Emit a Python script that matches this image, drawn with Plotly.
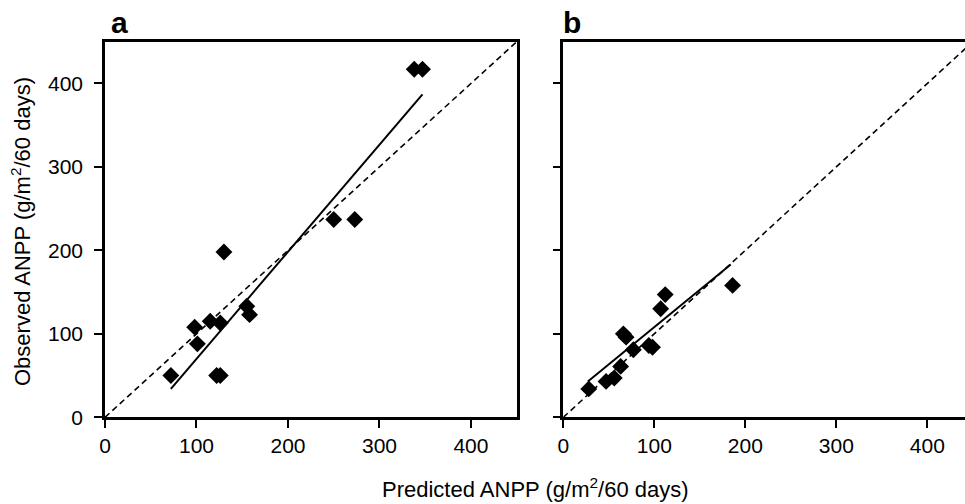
import plotly.graph_objects as go

# =====================================
# DATA
# =====================================

a_pred = [72, 98, 101, 115, 126, 122, 126, 130, 155, 158, 250, 273, 338, 347]
a_obs = [50, 108, 88, 115, 113, 50, 50, 198, 133, 123, 237, 237, 417, 417]
a_fit_x = [72, 347]
a_fit_y = [34, 387]

b_pred = [28, 47, 56, 63, 66, 69, 77, 94, 98, 107, 112, 186]
b_obs = [34, 43, 47, 61, 100, 96, 81, 86, 84, 130, 147, 158]
b_fit_x = [27, 184]
b_fit_y = [43, 183]

one_to_one = [0, 450]
tick_vals = [0, 100, 200, 300, 400]

FONT = "Liberation Sans, Arial, Helvetica, sans-serif"
W, H = 965, 504

# =====================================
# FIGURE
# =====================================

fig = go.Figure()

panels = [
    ("x", "y", a_pred, a_obs, a_fit_x, a_fit_y),
    ("x2", "y2", b_pred, b_obs, b_fit_x, b_fit_y),
]

for xa, ya, px, py, fx, fy in panels:
    # 1:1 dashed line
    fig.add_trace(go.Scatter(
        x=one_to_one, y=one_to_one, xaxis=xa, yaxis=ya,
        mode="lines", line=dict(color="black", width=1.6, dash="6px,4px"),
        showlegend=False, hoverinfo="skip"
    ))
    # regression line
    fig.add_trace(go.Scatter(
        x=fx, y=fy, xaxis=xa, yaxis=ya,
        mode="lines", line=dict(color="black", width=2),
        showlegend=False, hoverinfo="skip"
    ))
    # observations
    fig.add_trace(go.Scatter(
        x=px, y=py, xaxis=xa, yaxis=ya,
        mode="markers",
        marker=dict(symbol="diamond", size=13, color="black",
                    line=dict(width=0)),
        showlegend=False
    ))

# =====================================
# LAYOUT
# =====================================

axis_style = dict(
    showline=True, linecolor="black", linewidth=2.5,
    ticks="outside", ticklen=8, tickwidth=2, tickcolor="black",
    showgrid=False, zeroline=False,
    tickvals=tick_vals,
    tickfont=dict(family=FONT, size=21, color="black"),
    automargin=False,
)

top = 1 - 41.7 / H
bottom = 1 - 417.3 / H

fig.update_layout(
    width=W, height=H,
    margin=dict(l=0, r=0, t=0, b=0),
    paper_bgcolor="white", plot_bgcolor="white",
    font=dict(family=FONT, color="black"),
    xaxis=dict(axis_style, domain=[105 / W, 516.7 / W], range=[0, 450],
               mirror=True, anchor="y"),
    yaxis=dict(axis_style, domain=[bottom, top], range=[0, 450],
               mirror=True, anchor="x", ticklabelstandoff=7),
    xaxis2=dict(axis_style, domain=[563.3 / W, 1], range=[0, 441.4],
                mirror=True, anchor="y2"),
    yaxis2=dict(axis_style, domain=[bottom, top], range=[0, 450],
                mirror=False, anchor="x2", showticklabels=False),
)

# panel letters and axis titles
fig.add_annotation(text="<b>a</b>", x=109 / W, y=1 - 4 / H,
                   xref="paper", yref="paper", xanchor="left", yanchor="top",
                   showarrow=False, font=dict(family=FONT, size=30))
fig.add_annotation(text="<b>b</b>", x=561 / W, y=1 - 4 / H,
                   xref="paper", yref="paper", xanchor="left", yanchor="top",
                   showarrow=False, font=dict(family=FONT, size=30))
fig.add_annotation(text="Predicted ANPP (g/m<sup>2</sup>/60 days)",
                   x=535 / W, y=1 - 488 / H,
                   xref="paper", yref="paper", xanchor="center", yanchor="middle",
                   showarrow=False, font=dict(family=FONT, size=22))
fig.add_annotation(text="Observed ANPP (g/m<sup>2</sup>/60 days)",
                   x=21 / W, y=1 - 232 / H, textangle=-90,
                   xref="paper", yref="paper", xanchor="center", yanchor="middle",
                   showarrow=False, font=dict(family=FONT, size=22))

# drop the browser's default body margin so the figure fills the window
fig.write_html("out.html", config={"displayModeBar": False},
               post_script="document.body.style.margin='0';")
